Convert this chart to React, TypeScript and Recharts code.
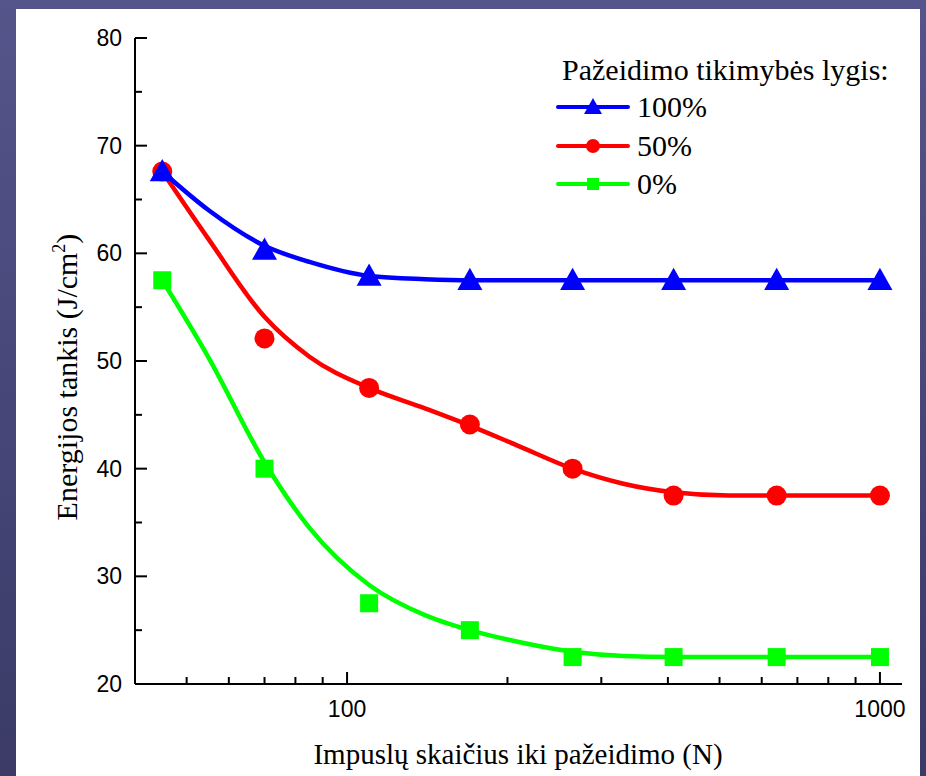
import { LineChart, Line, XAxis, YAxis } from 'recharts'

// impulse counts where damage was measured
const pulses = [45, 70, 110, 170, 265, 410, 640, 1000]
const level100 = [67.6, 60.3, 57.9, 57.5, 57.5, 57.5, 57.5, 57.5]
const level50 = [67.6, 52.1, 47.5, 44.1, 40.0, 37.5, 37.5, 37.5]
const level0 = [57.5, 40.0, 27.5, 25.0, 22.5, 22.5, 22.5, 22.5]

// fitted curves
const fitPulses = [45, 55, 70, 85, 110, 140, 170, 210, 265, 330, 410, 520, 640, 800, 1000]
const fit100 = [67.6, 64.0, 60.7, 59.2, 57.9, 57.6, 57.5, 57.5, 57.5, 57.5, 57.5, 57.5, 57.5, 57.5, 57.5]
const fit50 = [67.6, 61.3, 54.1, 50.4, 47.5, 45.6, 44.0, 42.1, 40.0, 38.6, 37.8, 37.5, 37.5, 37.5, 37.5]
const fit0 = [57.5, 50.3, 40.6, 34.5, 29.2, 26.4, 25.0, 23.9, 23.0, 22.6, 22.5, 22.5, 22.5, 22.5, 22.5]

const xTicks = [50, 60, 70, 80, 90, 100, 200, 300, 400, 500, 600, 700, 800, 900, 1000]
const xLabels = [100, 1000]
const yTicks = [20, 25, 30, 35, 40, 45, 50, 55, 60, 65, 70, 75, 80]

const BLUE = '#0000ff'
const RED = '#ff0000'
const GREEN = '#00ff00'
const TM = 10
const SANS = '"Liberation Sans", Arial, sans-serif'
const SERIF = '"Liberation Serif", "Times New Roman", serif'

const toRows = (xs: number[], ys: number[]) => xs.map((n, i) => ({ n, v: ys[i] }))

const tickLen = (major: boolean) => (major ? 12 : 7)

const BottomTick = ({ x, y, payload }: any) => {
  const ay = y - TM
  const major = xLabels.includes(payload.value)
  return (
    <g>
      <line x1={x} x2={x} y1={ay} y2={ay - tickLen(major)} stroke="#000" strokeWidth={2} />
      {major && (
        <text x={x} y={ay + 33} textAnchor="middle" fontFamily={SANS} fontSize={23} fill="#000">
          {payload.value}
        </text>
      )}
    </g>
  )
}

const TopTick = ({ x, y, payload }: any) => {
  const ay = y + TM
  const major = xLabels.includes(payload.value)
  return <line x1={x} x2={x} y1={ay} y2={ay + tickLen(major)} stroke="#000" strokeWidth={2} />
}

const LeftTick = ({ x, y, payload }: any) => {
  const ax = x + TM
  const major = payload.value % 10 === 0
  return (
    <g>
      <line x1={ax} x2={ax + tickLen(major)} y1={y} y2={y} stroke="#000" strokeWidth={2} />
      {major && (
        <text x={ax - 13} y={y + 8} textAnchor="end" fontFamily={SANS} fontSize={23} fill="#000">
          {payload.value}
        </text>
      )}
    </g>
  )
}

const RightTick = ({ x, y, payload }: any) => {
  const ax = x - TM
  const major = payload.value % 10 === 0
  return <line x1={ax} x2={ax - tickLen(major)} y1={y} y2={y} stroke="#000" strokeWidth={2} />
}

const triangle = (cx: number, cy: number, s: number) =>
  `M${cx},${cy - s} L${cx - s},${cy + s * 0.78} L${cx + s},${cy + s * 0.78} Z`

const TriangleDot = ({ cx, cy, index }: any) => <path key={index} d={triangle(cx, cy, 12.5)} fill={BLUE} />
const CircleDot = ({ cx, cy, index }: any) => <circle key={index} cx={cx} cy={cy} r={10} fill={RED} />
const SquareDot = ({ cx, cy, index }: any) => <rect key={index} x={cx - 9} y={cy - 9} width={18} height={18} fill={GREEN} />

const legendItems = [
  { label: '100%', color: BLUE, y: 107, shape: 'tri' },
  { label: '50%', color: RED, y: 146, shape: 'circ' },
  { label: '0%', color: GREEN, y: 184, shape: 'sq' },
]

export default function App() {
  return (
    <div
      style={{
        position: 'fixed', left: 0, top: 0, width: 926, height: 776, overflow: 'hidden',
        background: 'linear-gradient(180deg, #55558b 0%, #47477a 50%, #3b3b66 100%)',
      }}
    >
      <div style={{ position: 'absolute', left: 16, top: 9, width: 904, height: 780, background: '#fff' }} />
      <div style={{ position: 'absolute', left: 0, top: 0 }}>
        <LineChart width={926} height={776} margin={{ top: 38, right: 24, bottom: 52, left: 75 }}>
          <XAxis
            dataKey="n" type="number" scale="log" domain={[40, 1100]} allowDataOverflow
            ticks={xTicks} interval={0} height={40} tickSize={0} tickMargin={TM}
            tick={BottomTick} axisLine={{ stroke: '#000', strokeWidth: 2 }}
          />
          <XAxis
            xAxisId="top" orientation="top" dataKey="n" type="number" scale="log" domain={[40, 1100]}
            allowDataOverflow ticks={xTicks} interval={0} height={0} tickSize={0} tickMargin={TM}
            tick={TopTick} axisLine={{ stroke: '#000', strokeWidth: 2 }}
          />
          <YAxis
            type="number" domain={[20, 80]} allowDataOverflow ticks={yTicks} interval={0} width={60}
            tickSize={0} tickMargin={TM} tick={LeftTick} axisLine={{ stroke: '#000', strokeWidth: 2 }}
          />
          <YAxis
            yAxisId="right" orientation="right" type="number" domain={[20, 80]} allowDataOverflow
            ticks={yTicks} interval={0} width={0} tickSize={0} tickMargin={TM} tick={RightTick}
            axisLine={{ stroke: '#000', strokeWidth: 2 }}
          />

          <Line data={toRows(fitPulses, fit0)} dataKey="v" type="monotone" stroke={GREEN} strokeWidth={4.5} dot={false} activeDot={false} isAnimationActive={false} />
          <Line data={toRows(fitPulses, fit50)} dataKey="v" type="monotone" stroke={RED} strokeWidth={4.5} dot={false} activeDot={false} isAnimationActive={false} />
          <Line data={toRows(fitPulses, fit100)} dataKey="v" type="monotone" stroke={BLUE} strokeWidth={4.5} dot={false} activeDot={false} isAnimationActive={false} />

          <Line data={toRows(pulses, level0)} dataKey="v" stroke="none" strokeWidth={0} dot={SquareDot} activeDot={false} isAnimationActive={false} />
          <Line data={toRows(pulses, level50)} dataKey="v" stroke="none" strokeWidth={0} dot={CircleDot} activeDot={false} isAnimationActive={false} />
          <Line data={toRows(pulses, level100)} dataKey="v" stroke="none" strokeWidth={0} dot={TriangleDot} activeDot={false} isAnimationActive={false} />
        </LineChart>
      </div>

      <svg width={926} height={776} style={{ position: 'absolute', left: 0, top: 0, pointerEvents: 'none' }}>
        <text x={518} y={764} textAnchor="middle" fontFamily={SERIF} fontSize={29} fill="#000">
          Impuslų skaičius iki pažeidimo (N)
        </text>
        <text
          transform="translate(77, 377) rotate(-90)" textAnchor="middle"
          fontFamily={SERIF} fontSize={30} fill="#000"
        >
          Energijos tankis (J/cm<tspan fontSize={18} dy={-12}>2</tspan><tspan dy={12}>)</tspan>
        </text>

        <text x={562} y={80} fontFamily={SERIF} fontSize={30} fill="#000">
          Pažeidimo tikimybės lygis:
        </text>
        {legendItems.map(it => (
          <g key={it.label}>
            <line x1={558} x2={628} y1={it.y} y2={it.y} stroke={it.color} strokeWidth={4} strokeLinecap="round" />
            {it.shape === 'tri' && <path d={triangle(593, it.y, 9)} fill={it.color} />}
            {it.shape === 'circ' && <circle cx={593} cy={it.y} r={7} fill={it.color} />}
            {it.shape === 'sq' && <rect x={587} y={it.y - 6} width={12} height={12} fill={it.color} />}
            <text x={637} y={it.y + 10} fontFamily={SERIF} fontSize={30} fill="#000">
              {it.label}
            </text>
          </g>
        ))}
      </svg>
    </div>
  )
}
